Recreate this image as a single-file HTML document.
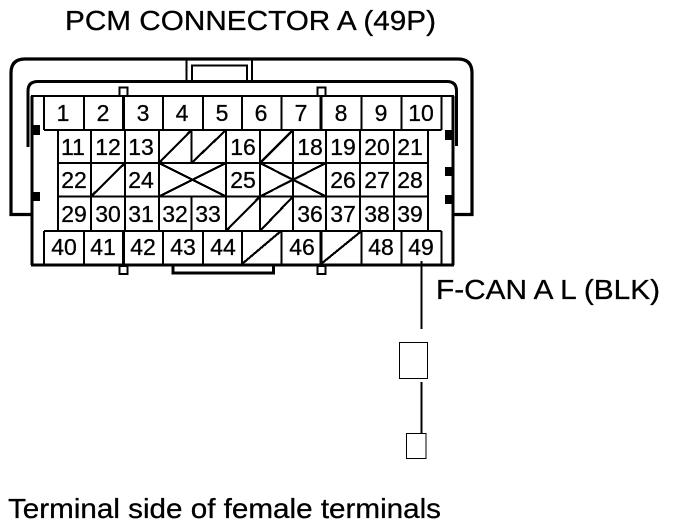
<!DOCTYPE html>
<html><head><meta charset="utf-8"><style>
html,body{margin:0;padding:0;background:#fff;width:688px;height:528px;overflow:hidden}
svg{display:block}
text{font-family:"Liberation Sans",sans-serif;fill:#000;stroke:#000;stroke-width:.3px}
.n{font-size:23px;text-anchor:middle}
.l{font-size:27.500px}
</style></head><body>
<svg width="688" height="528" viewBox="0 0 688 528" xmlns="http://www.w3.org/2000/svg">
<rect width="688" height="528" fill="#fff"/>
<text class="l" x="65" y="30" textLength="371" lengthAdjust="spacingAndGlyphs">PCM CONNECTOR A (49P)</text>
<text class="l" x="436" y="299" textLength="224" lengthAdjust="spacingAndGlyphs">F-CAN A L (BLK)</text>
<text class="l" x="8" y="518" textLength="433" lengthAdjust="spacingAndGlyphs">Terminal side of female terminals</text>
<g fill="none" stroke="#000" shape-rendering="crispEdges">
<path d="M32 214.500H11V73Q11 59 25 59H458Q472 59 472 73V214.500H454" stroke-width="3.200" shape-rendering="auto"/>
<path d="M28 147V91Q28 81.500 38 81.500H447Q456.500 81.500 456.500 91V146" stroke-width="3" shape-rendering="auto"/>
<path d="M186.500 59V81M252 59V81" stroke-width="2"/>
<path d="M192 81V65.500H247V81" stroke-width="2"/>
<rect x="32" y="96" width="421" height="169" stroke-width="2"/>
<path d="M31 265H454M32 96V265M453 96V265" stroke-width="3"/>
<rect x="119.500" y="87.500" width="8" height="8.500" stroke-width="2" fill="#fff"/>
<rect x="317.500" y="87.500" width="8" height="8.500" stroke-width="2" fill="#fff"/>
<rect x="119.500" y="266" width="8" height="8" stroke-width="2" fill="#fff"/>
<rect x="317.500" y="266" width="8" height="8" stroke-width="2" fill="#fff"/>
<path d="M173 266V273H273.500V266" stroke-width="3"/>
<g stroke-width="2">
<path d="M44 96V130M84 96V130M123.500 96V130M163 96V130M203 96V130M242 96V130M281.500 96V130M321 96V130M361.500 96V130M401.500 96V130M441.500 96V130"/>
<path d="M44 130H441.500M44 231H441.500"/>
<path d="M44 231V264M84 231V264M123.500 231V264M163 231V264M203 231V264M242 231V264M281.500 231V264M321 231V264M361.500 231V264M401.500 231V264M441.500 231V264"/>
<path d="M58 130V231M428 130V231M58 163H428M58 196.500H428"/>
<path d="M91 130V231M125 130V231M159 130V231M226 130V231M260 130V231M293 130V231M326 130V231M360 130V231M394 130V231"/>
<path d="M191.500 130V163M191.500 196.500V231"/>
</g>
<path d="M123.500 96V130M321 96V130M123.500 231V264M321 231V264" stroke-width="3"/>
<g stroke-width="2.200">
<path d="M159 163L191.500 130M191.500 163L226 130M260 163L293 130M91 196.500L125 163M226 231L260 196.500M260 231L293 196.500M242 264L281 231M321 264L361.500 231"/>
<path d="M159 163L226 196.500M159 196.500L226 163M260 163L326 196.500M260 196.500L326 163"/>
</g>
<path d="M421.500 261V329M421.500 382V434" stroke-width="2"/>
<rect x="399.500" y="342.500" width="28" height="36" stroke-width="1"/>
<rect x="406.500" y="433.500" width="19.500" height="25" stroke-width="1"/>
</g>
<g fill="#000">
<rect x="33" y="125" width="7" height="10"/><rect x="33" y="192" width="7" height="9"/>
<rect x="445" y="130" width="8" height="10"/><rect x="445" y="167" width="8" height="9"/><rect x="445" y="195" width="8" height="9"/>
</g>
<g class="nums">
<text class="n" x="63" y="121">1</text><text class="n" x="103" y="121">2</text><text class="n" x="143" y="121">3</text><text class="n" x="182" y="121">4</text><text class="n" x="222" y="121">5</text><text class="n" x="261" y="121">6</text><text class="n" x="301" y="121">7</text><text class="n" x="341" y="121">8</text><text class="n" x="381" y="121">9</text><text class="n" x="421" y="121">10</text>
<text class="n" x="73" y="155">11</text><text class="n" x="108" y="155">12</text><text class="n" x="141" y="155">13</text><text class="n" x="243" y="155">16</text><text class="n" x="310" y="155">18</text><text class="n" x="343" y="155">19</text><text class="n" x="377" y="155">20</text><text class="n" x="410" y="155">21</text>
<text class="n" x="74" y="188">22</text><text class="n" x="141" y="188">24</text><text class="n" x="243" y="188">25</text><text class="n" x="343" y="188">26</text><text class="n" x="377" y="188">27</text><text class="n" x="410" y="188">28</text>
<text class="n" x="74" y="222">29</text><text class="n" x="108" y="222">30</text><text class="n" x="141" y="222">31</text><text class="n" x="175" y="222">32</text><text class="n" x="208" y="222">33</text><text class="n" x="310" y="222">36</text><text class="n" x="343" y="222">37</text><text class="n" x="377" y="222">38</text><text class="n" x="410" y="222">39</text>
<text class="n" x="64" y="255">40</text><text class="n" x="103" y="255">41</text><text class="n" x="143" y="255">42</text><text class="n" x="183" y="255">43</text><text class="n" x="223" y="255">44</text><text class="n" x="302" y="255">46</text><text class="n" x="381" y="255">48</text><text class="n" x="421" y="255">49</text>
</g>
</svg>
</body></html>
